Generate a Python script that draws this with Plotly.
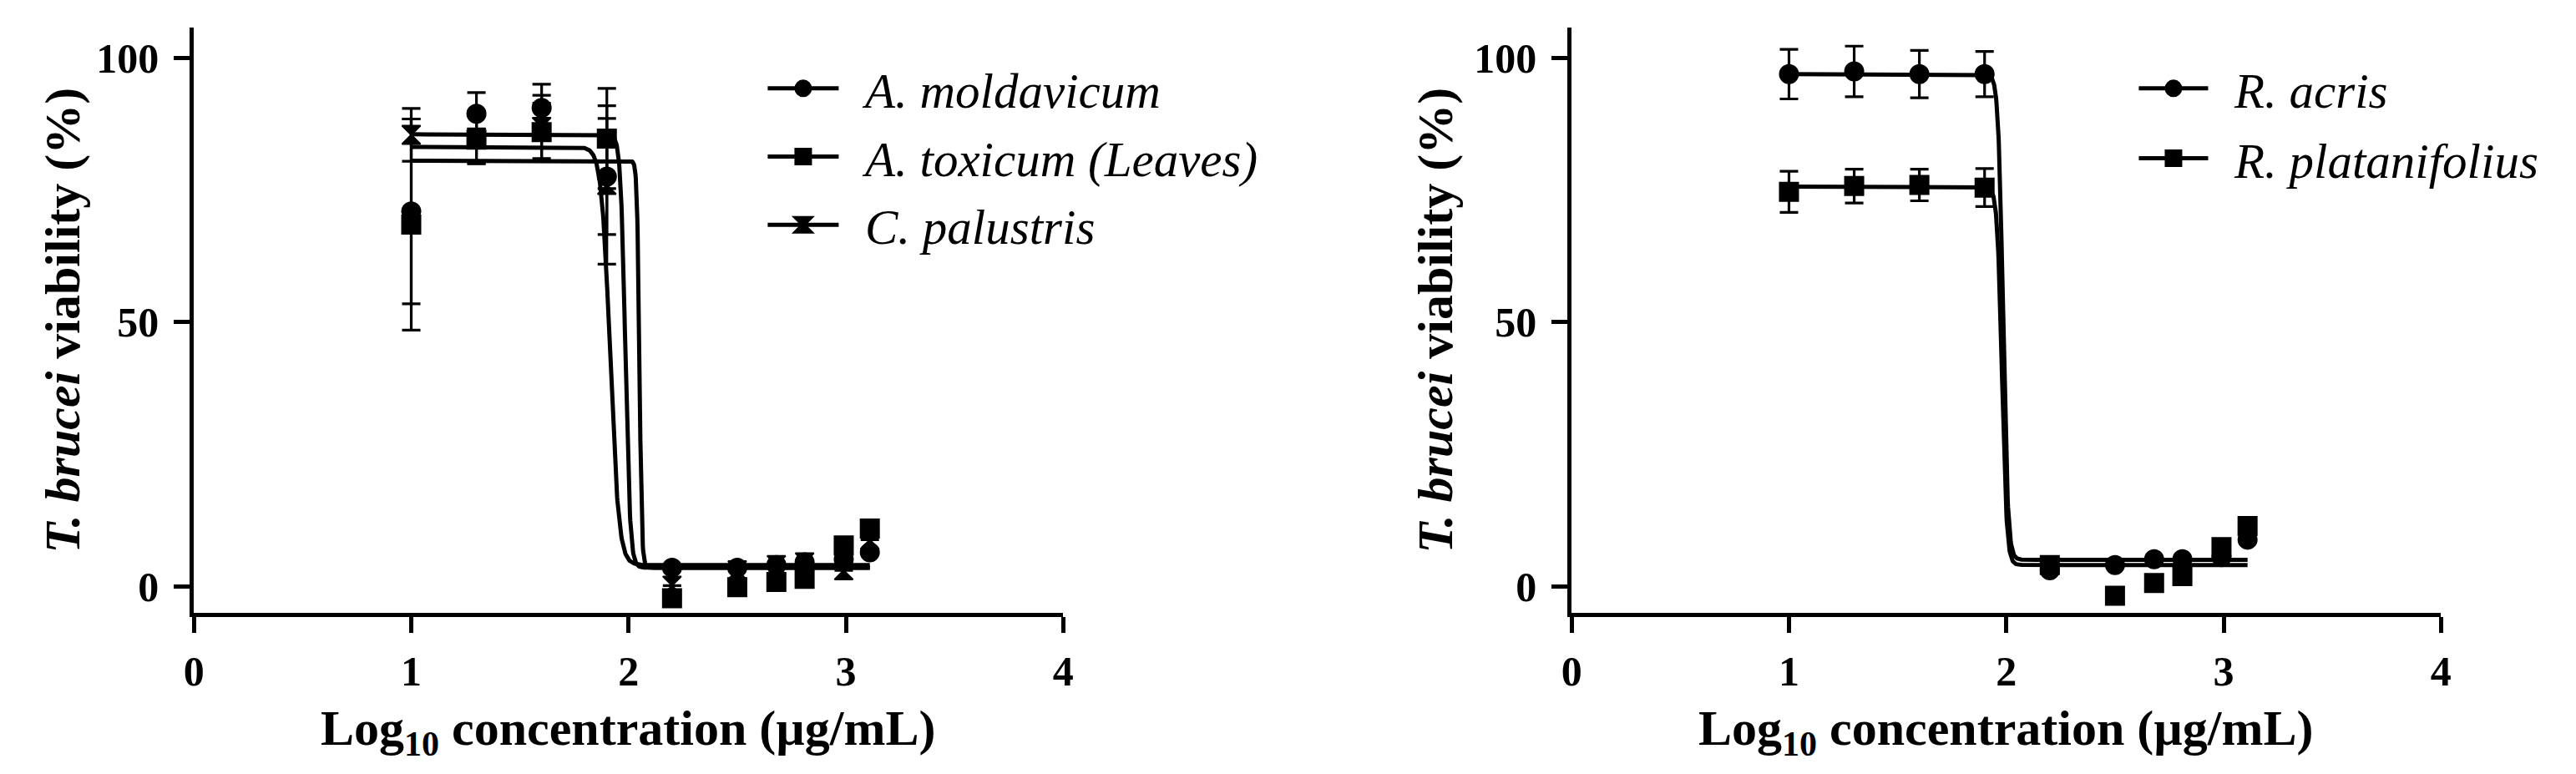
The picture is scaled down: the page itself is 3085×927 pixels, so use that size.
import numpy as np
import plotly.graph_objects as go

# ---------------- data ----------------
log_conc = [1.0, 1.3, 1.6, 1.9, 2.2, 2.5, 2.68, 2.81, 2.99, 3.11]

# left panel
left_names = ["A. moldavicum", "A. toxicum (Leaves)", "C. palustris"]
left_symbols = ["circle", "square", "hourglass"]
moldavicum = [71.0, 89.5, 90.6, 77.6, 3.5, 3.5, 4.0, 4.5, 5.1, 6.4]
moldavicum_err = [17.5, 4.0, 4.5, 11.0, 0, 0, 0, 0, 0, 0]
toxicum = [68.5, 84.6, 86.0, 84.8, -2.3, -0.2, 0.8, 1.4, 7.7, 10.9]
toxicum_err = [20.0, 4.5, 5.5, 9.5, 0, 0, 0, 0, 0, 0]
palustris = [85.5, 85.0, 87.0, 76.0, 0.1, 3.0, 4.0, 4.5, 3.0, 8.8]
palustris_err = [5.0, 5.0, 6.0, 15.0, 0, 0, 0, 0, 0, 0]

# fitted 4PL parameters (top, bottom, logIC50, hill)
left_top = [83.2, 80.6, 85.6]
left_bottom = [4.0, 3.5, 3.5]
left_logic50 = [1.915, 2.05, 1.985]
left_hill = [22, 80, 40]

# right panel
right_names = ["R. acris", "R. platanifolius"]
right_symbols = ["circle", "square"]
acris = [97.0, 97.5, 97.0, 97.0, 3.0, 4.0, 5.1, 5.1, 5.5, 8.8]
acris_err = [4.7, 4.8, 4.5, 4.3, 0, 0, 0, 0, 0, 0]
platanifolius = [74.7, 75.8, 76.0, 75.5, 4.0, -1.8, 0.6, 1.9, 7.4, 11.4]
platanifolius_err = [3.9, 3.2, 3.0, 3.6, 0, 0, 0, 0, 0, 0]

right_top = [97.0, 75.7]
right_bottom = [5.0, 4.0]
right_logic50 = [1.985, 1.98]
right_hill = [40, 40]

x_ticks = [0, 1, 2, 3, 4]
y_ticks = [0, 50, 100]

# ---------------- styling ----------------
W, H = 3085, 927
FONT = "Liberation Serif"
BLACK = "#000000"
GAP = "\u00a0\u2009"  # spacing between legend symbol and label


def fit_curve(top, bottom, logic50, hill):
    xs = np.linspace(min(log_conc), max(log_conc), 1500)
    ys = bottom + (top - bottom) / (1.0 + 10 ** ((xs - logic50) * hill))
    return xs, ys


def marker(sym, size=22):
    return dict(symbol=sym, size=size, color=BLACK, line=dict(color=BLACK, width=2))


fig = go.Figure()

left_series = [(moldavicum, moldavicum_err), (toxicum, toxicum_err), (palustris, palustris_err)]
for i, name in enumerate(left_names):
    xs, ys = fit_curve(left_top[i], left_bottom[i], left_logic50[i], left_hill[i])
    fig.add_trace(go.Scatter(x=xs, y=ys, mode="lines", line=dict(color=BLACK, width=5),
                             showlegend=False, xaxis="x", yaxis="y", hoverinfo="skip"))
for i, name in enumerate(left_names):
    vals, errs = left_series[i]
    fig.add_trace(go.Scatter(x=log_conc, y=vals, mode="markers",
                             marker=marker(left_symbols[i]),
                             error_y=dict(type="data", array=errs, visible=True, color=BLACK,
                                          thickness=3.2, width=11),
                             showlegend=False, xaxis="x", yaxis="y"))
    fig.add_trace(go.Scatter(x=[None], y=[None], mode="lines+markers", name=GAP + name,
                             marker=dict(symbol=left_symbols[i], size=16, color=BLACK,
                                         line=dict(color=BLACK, width=5)),
                             line=dict(color=BLACK, width=5),
                             legend="legend", legendgroup="L%d" % i,
                             xaxis="x", yaxis="y"))

right_series = [(acris, acris_err), (platanifolius, platanifolius_err)]
for i, name in enumerate(right_names):
    xs, ys = fit_curve(right_top[i], right_bottom[i], right_logic50[i], right_hill[i])
    fig.add_trace(go.Scatter(x=xs, y=ys, mode="lines", line=dict(color=BLACK, width=5),
                             showlegend=False, xaxis="x2", yaxis="y2", hoverinfo="skip"))
for i, name in enumerate(right_names):
    vals, errs = right_series[i]
    fig.add_trace(go.Scatter(x=log_conc, y=vals, mode="markers",
                             marker=marker(right_symbols[i]),
                             error_y=dict(type="data", array=errs, visible=True, color=BLACK,
                                          thickness=3.2, width=11),
                             showlegend=False, xaxis="x2", yaxis="y2"))
    fig.add_trace(go.Scatter(x=[None], y=[None], mode="lines+markers", name=GAP + name,
                             marker=dict(symbol=right_symbols[i], size=16, color=BLACK,
                                         line=dict(color=BLACK, width=5)),
                             line=dict(color=BLACK, width=5),
                             legend="legend2", legendgroup="R%d" % i,
                             xaxis="x2", yaxis="y2"))

tickfont = dict(family=FONT, size=50, color=BLACK, weight="bold")
ydom = [1 - 726 / H, 1 - 24.5 / H]
yrange = [-5.06, 105.9]


def xaxis_cfg(domain, anchor):
    return dict(domain=domain, anchor=anchor, range=[0, 4], tickvals=x_ticks,
                showline=True, linecolor=BLACK, linewidth=5, ticks="outside",
                ticklen=19, tickwidth=5, tickcolor=BLACK, showgrid=False,
                zeroline=False, tickfont=tickfont, ticklabelstandoff=3)


def yaxis_cfg(anchor):
    return dict(domain=ydom, anchor=anchor, range=yrange, tickvals=y_ticks,
                showline=True, linecolor=BLACK, linewidth=5, ticks="outside",
                ticklen=19, tickwidth=5, tickcolor=BLACK, showgrid=False,
                zeroline=False, tickfont=tickfont, ticklabelstandoff=8)


left_dom = [213 / W, 1263 / W]
right_dom = [1877 / W, 2927 / W]

title_font = dict(family=FONT, size=60, color=BLACK, weight="bold")
legend_font = dict(family=FONT, size=59, color=BLACK, style="italic")

annotations = []
for dom, xc in [(left_dom, 54), (right_dom, 1712)]:
    annotations.append(dict(text="Log<sub>10</sub> concentration (µg/mL)", xref="paper", yref="paper",
                            x=(dom[0] + dom[1]) / 2, y=1 - 868 / H, xanchor="center", yanchor="middle",
                            showarrow=False, font=title_font))
    annotations.append(dict(text="<i>T. brucei</i> viability (%)", xref="paper", yref="paper",
                            x=xc / W, y=1 - 376 / H, xanchor="center", yanchor="middle",
                            textangle=-90, showarrow=False, font=title_font))

fig.update_layout(
    width=W, height=H,
    margin=dict(l=0, r=0, t=0, b=0),
    paper_bgcolor="white", plot_bgcolor="white",
    xaxis=xaxis_cfg(left_dom, "y"),
    yaxis=yaxis_cfg("x"),
    xaxis2=xaxis_cfg(right_dom, "y2"),
    yaxis2=yaxis_cfg("x2"),
    legend=dict(x=901 / W, y=1 - 53 / H, xanchor="left", yanchor="top", font=legend_font,
                bgcolor="rgba(0,0,0,0)", itemwidth=85, tracegroupgap=2, itemclick=False),
    legend2=dict(x=2557 / W, y=1 - 53 / H, xanchor="left", yanchor="top", font=legend_font,
                 bgcolor="rgba(0,0,0,0)", itemwidth=83, tracegroupgap=4, itemclick=False),
    annotations=annotations,
    showlegend=True,
)

fig.write_html("out.html")
